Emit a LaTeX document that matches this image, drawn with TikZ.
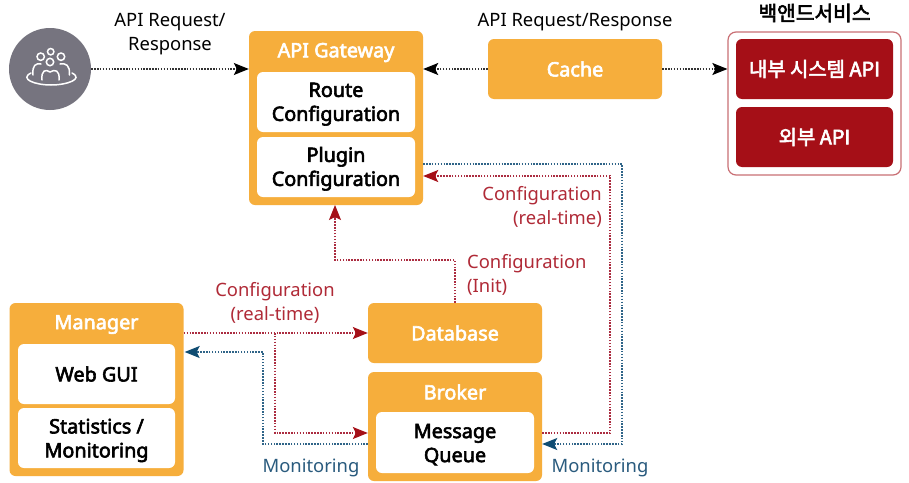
\documentclass[tikz,border=0pt]{standalone}
\usepackage{fontspec}
\setmainfont{Noto Sans}
\newfontfamily\medfont{Noto Sans}[FakeBold=3]
\newfontfamily\krfont{Noto Sans CJK KR}[FakeBold=3]
\usetikzlibrary{arrows.meta,calc}
\definecolor{orangebox}{HTML}{F6AE3C}
\definecolor{redbox}{HTML}{A50F17}
\definecolor{redline}{HTML}{AB2C40}
\definecolor{blueline}{HTML}{0F4C72}
\definecolor{blueconn}{HTML}{2F6488}
\definecolor{bluetext}{HTML}{2A5B7E}
\definecolor{redtext}{HTML}{B02A37}
\definecolor{usergray}{HTML}{76747F}
\newcommand{\pushdn}[1]{\rule{0pt}{#1pt}}
\tikzset{
 x=1pt,y=-1pt,
 box/.style={draw=none,fill=orangebox,rounded corners=6pt,inner sep=0pt},
 inbox/.style={fill=white,rounded corners=6pt,inner sep=0pt,align=center,font=\fontsize{19.8}{24}\medfont,text=black},
 redin/.style={fill=redbox,rounded corners=6pt,inner sep=0pt,align=center,font=\fontsize{19.9}{22}\krfont,text=white},
 title/.style={font=\fontsize{19.8}{24}\medfont,text=white,inner sep=0pt},
 lab/.style={font=\fontsize{18.4}{24}\selectfont,inner sep=0pt,align=center},
 conn/.style={line width=1.1pt,dash pattern=on 1.5pt off 1.4pt},
 blk/.style={conn,draw=black!80,-{Stealth[length=15pt,width=12pt,inset=3pt,color=black]}},
 redc/.style={conn,draw=redline},
 bluec/.style={conn,draw=blueconn},
 redarrow/.style={redc,-{Stealth[length=15pt,width=12pt,inset=3pt,color=redbox]}},
 bluearrow/.style={bluec,-{Stealth[length=15pt,width=12pt,inset=3pt,color=blueline]}},
 icon/.style={draw=white,line width=1.5pt,line cap=round,fill=none},
}
\begin{document}
\begin{tikzpicture}
\useasboundingbox (0,0) rectangle (909,482);
\fill[white] (0,0) rectangle (909,482);
% user
\node[circle,fill=usergray,minimum size=82pt,inner sep=0pt] (user) at (50,69) {};
\draw[icon] (40.7,56.7) circle (3.7);
\draw[icon] (50.7,51.7) circle (3.2);
\draw[icon] (61,56.7) circle (3.7);
\draw[icon] (50,62) circle (3.7);
\draw[icon] (33,75) .. controls (32,65) and (36,63) .. (41,64);
\draw[icon] (69.5,75) .. controls (70,65) and (66,63) .. (60,64);
\draw[icon] (42,80) .. controls (41,70) and (46,69) .. (50,72) .. controls (55,69) and (60,70) .. (59,80);
\draw[icon] (31,73) .. controls (19,79) and (35,85) .. (51,85) .. controls (67,85) and (84,79) .. (72,73);
% gateway
\node[box,minimum width=174pt,minimum height=174pt] (gw) at (336,118) {};
\node[title] (gwt) at (336,52.5) {API Gateway};
\node[inbox,minimum width=158pt,minimum height=60pt] (route) at (336,102) {\pushdn{18.5}Route\\Configuration};
\node[inbox,minimum width=158pt,minimum height=60pt] (plugin) at (336,167) {\pushdn{18.5}Plugin\\Configuration};
% cache
\node[box,minimum width=174pt,minimum height=60pt,title] (cache) at (575,69) {Cache};
% backend
\node[draw=redbox!60,line width=1.2pt,fill=white,rounded corners=8pt,minimum width=173pt,minimum height=143pt,inner sep=0pt] (back) at (814.5,103.5) {};
\node[redin,minimum width=157pt,minimum height=60pt] (internal) at (814.5,69) {내부 시스템 API};
\node[redin,minimum width=157pt,minimum height=60pt] (external) at (814.5,137) {외부 API};
\node[font=\fontsize{20.3}{22}\krfont,inner sep=0pt] (backt) at (814.5,13) {백앤드서비스};
% manager
\node[box,minimum width=174pt,minimum height=173pt] (mgr) at (96.5,389.5) {};
\node[title] (mgrt) at (96.5,324.5) {Manager};
\node[inbox,minimum width=157pt,minimum height=60pt] (web) at (96.5,374) {Web GUI};
\node[inbox,minimum width=157pt,minimum height=60pt] (stats) at (96.5,438) {\pushdn{19.5}Statistics /\\Monitoring};
% database
\node[box,minimum width=174pt,minimum height=60pt,title] (db) at (455,333) {Database};
% broker
\node[box,minimum width=174pt,minimum height=109pt] (broker) at (455,426.5) {};
\node[title] (brokert) at (455,392) {Broker};
\node[inbox,minimum width=158pt,minimum height=61pt] (mq) at (455,442.5) {\pushdn{18.5}Message\\Queue};
% labels
\node[lab] (l1) at (170,34) {API Request/\\Response};
\node[lab] (l2) at (575,22) {API Request/Response};
\node[lab,text=redtext,align=right,anchor=east] (l3) at (602,207) {Configuration\\(real-time)};
\node[lab,text=redtext,align=left,anchor=west] (l4) at (467,275) {Configuration\\(Init)};
\node[lab,text=redtext] (l5) at (275,303) {Configuration\\(real-time)};
\node[lab,text=bluetext] (l6) at (311,468) {Monitoring};
\node[lab,text=bluetext] (l7) at (600,468) {Monitoring};
% connector end points
\coordinate (gwcache) at (gw.east |- cache.west);
\coordinate (gwuser) at (gw.west |- user.east);
\coordinate (gwin) at ($(gw.east)+(0,58)$);
\coordinate (gwout) at ($(gw.east)+(0,46)$);
\coordinate (mgrout) at (mgr.east |- db.west);
\coordinate (mgrin) at ($(mgr.east)+(1,-37.5)$);
\coordinate (brin) at ($(broker.west)+(0,6.5)$);
\coordinate (brout) at ($(broker.west)+(0,17.5)$);
\coordinate (brr) at ($(broker.east)+(0,6.5)$);
\coordinate (brl) at ($(broker.east)+(0,17.5)$);
\coordinate (branch) at (275,333);
% connectors
\draw[blk] (user.east) -- (gwuser);
\draw[blk] (cache.west) -- (gwcache);
\draw[blk] (cache.east) -- (back.west |- cache.east);
\draw[redarrow] (db.north) -- (455,260) -- (335,260) -- (335,205);
\draw[redarrow] (mgrout) -- (db.west);
\draw[redarrow] (branch) -- (275,433) -- (brin);
\draw[bluearrow] (brout) -- (263,444) -- (263,352) -- (mgrin);
\draw[redarrow] (brr) -- (610,433) -- (610,176) -- (gwin);
\draw[bluearrow] (gwout) -- (622,164) -- (622,444) -- (brl);
\end{tikzpicture}
\end{document}
